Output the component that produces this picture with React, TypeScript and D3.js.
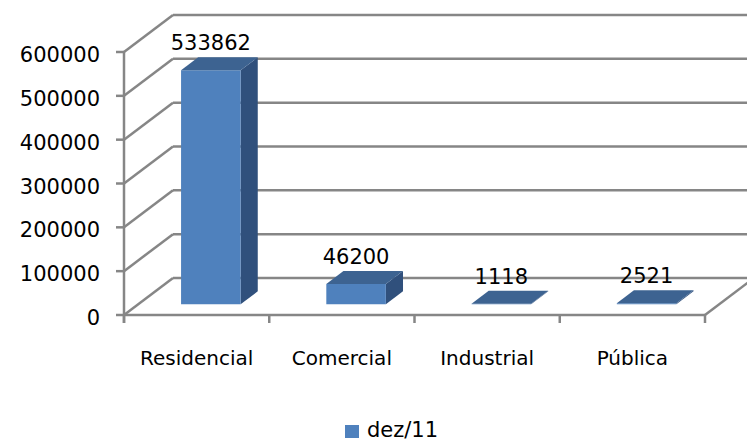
import React from 'react';
import * as d3 from 'd3';

const categories = ['Residencial', 'Comercial', 'Industrial', 'Pública'];
const values = [533862, 46200, 1118, 2521];
const yTicks = [0, 100000, 200000, 300000, 400000, 500000, 600000];
const seriesName = 'dez/11';

const W = 747;
const H = 442;

// depth vector of the 3d box
const DX = 49;
const DY = -37;
const Z0 = 0.29;
const Z1 = 0.64;

const GRID = '#868686';
const FONT = 'DejaVu Sans';

const App = () => {
  const x = d3.scaleBand<string>().domain(categories).range([124, 705]);
  const y = d3.scaleLinear().domain([0, 600000]).range([315, 52]);

  const proj = (px: number, v: number, z: number) => [px + z * DX, y(v) + z * DY];
  const pts = (arr: number[][]) => arr.map(p => p.join(',')).join(' ');

  const bw = x.bandwidth();
  const barW = bw * 0.41;
  const left = x.range()[0];
  const right = x.range()[1];
  const bounds = categories.map(c => x(c) as number).concat([right]);

  return (
    <svg width={W} height={H} style={{ position: 'absolute', left: 0, top: 0, background: '#fff' }}>
      {/* back wall gridlines + side wall */}
      {yTicks.map(t => (
        <g key={t} stroke={GRID} strokeWidth={2.5} fill="none">
          <line x1={left + DX} y1={y(t) + DY} x2={right + DX} y2={y(t) + DY} />
          <line x1={left} y1={y(t)} x2={left + DX} y2={y(t) + DY} />
          <line x1={left - 8} y1={y(t)} x2={left} y2={y(t)} />
        </g>
      ))}
      {/* floor */}
      <g stroke={GRID} strokeWidth={2.5}>
        <line x1={left} y1={y(0)} x2={right} y2={y(0)} />
        <line x1={right} y1={y(0)} x2={right + DX} y2={y(0) + DY} />
        <line x1={left} y1={y(600000)} x2={left} y2={y(0) + 8} />
        {bounds.map((b, i) => (
          <line key={i} x1={b} y1={y(0)} x2={b} y2={y(0) + 8} />
        ))}
      </g>

      {/* bars */}
      {categories.map((c, i) => {
        const v = values[i];
        const x0 = (x(c) as number) + (bw - barW) / 2;
        const x1 = x0 + barW;
        const front = [proj(x0, 0, Z0), proj(x1, 0, Z0), proj(x1, v, Z0), proj(x0, v, Z0)];
        const top = [proj(x0, v, Z0), proj(x1, v, Z0), proj(x1, v, Z1), proj(x0, v, Z1)];
        const side = [proj(x1, 0, Z0), proj(x1, 0, Z1), proj(x1, v, Z1), proj(x1, v, Z0)];
        const lx = (x0 + x1) / 2 + Z0 * DX;
        const ly = y(v) + Z1 * DY - 7;
        return (
          <g key={c}>
            <polygon points={pts(side)} fill="#30507c" />
            <polygon points={pts(front)} fill="#4f81bd" />
            <polygon points={pts(top)} fill="#3d6391" />
            <text x={lx} y={ly} textAnchor="middle" fontFamily={FONT} fontSize={21} fill="#000">
              {v}
            </text>
          </g>
        );
      })}

      {/* y tick labels */}
      {yTicks.map(t => (
        <text key={t} x={100} y={y(t) + 10} textAnchor="end" fontFamily={FONT} fontSize={21} fill="#000">
          {t}
        </text>
      ))}

      {/* category labels */}
      {categories.map(c => (
        <text key={c} x={(x(c) as number) + bw / 2} y={365} textAnchor="middle" fontFamily={FONT} fontSize={20} fill="#000">
          {c}
        </text>
      ))}

      {/* legend */}
      <rect x={345} y={425} width={14} height={13} fill="#4f81bd" />
      <text x={367} y={437} fontFamily={FONT} fontSize={21} fill="#000">{seriesName}</text>
    </svg>
  );
};

export default App;
